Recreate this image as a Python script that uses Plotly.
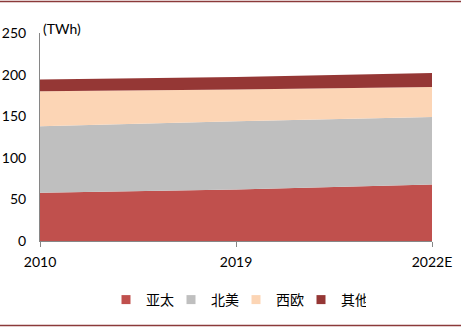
import plotly.graph_objects as go

years = ["2010", "2019", "2022E"]
series_names = ["亚太", "北美", "西欧", "其他"]
apac = [58, 62, 68]
north_america = [80, 82, 81]
west_europe = [42, 38, 36]
others = [14, 15, 17]
colors = ["#C0504D", "#BFBFBF", "#FCD5B5", "#953735"]

values = [apac, north_america, west_europe, others]
xpos = list(range(len(years)))

fig = go.Figure()
for name, vals, c in zip(series_names, values, colors):
    fig.add_trace(go.Scatter(
        x=xpos, y=vals, name=name, mode="lines",
        stackgroup="one", line=dict(width=0, color=c),
        fillcolor=c, showlegend=False,
    ))
# legend entries with square symbols
for name, c in zip(series_names, colors):
    fig.add_trace(go.Scatter(
        x=[None], y=[None], name=name, mode="markers",
        marker=dict(symbol="square", size=9, color=c), showlegend=True,
    ))

W, H = 461, 328
ml, mr, mt, mb = 40, 29, 33, 87
pw, ph = W - ml - mr, H - mt - mb

fig.update_layout(
    width=W, height=H,
    margin=dict(l=ml, r=mr, t=mt, b=mb, autoexpand=False),
    paper_bgcolor="white", plot_bgcolor="white",
    font=dict(family="Lato, 'Noto Sans CJK SC', sans-serif", size=14, color="#000000"),
    showlegend=True,
    legend=dict(orientation="h", x=0.5, xanchor="center", y=(241 - 300) / ph, yanchor="middle",
                traceorder="normal", font=dict(family="'Noto Sans CJK SC'", size=14),
                itemwidth=30, tracegroupgap=0, entrywidth=20, entrywidthmode="pixels"),
    xaxis=dict(range=[0, 2], tickmode="array", tickvals=xpos, ticktext=years,
               showgrid=False, zeroline=False, showline=True, linecolor="#868686",
               linewidth=1, ticks="outside", ticklen=5, tickcolor="#868686",
               tickfont=dict(size=14), ticklabelstandoff=3, automargin=False),
    yaxis=dict(range=[0, 250], tickvals=[0, 50, 100, 150, 200, 250],
               showgrid=False, zeroline=False, showline=True, linecolor="#868686",
               linewidth=1, ticks="", tickfont=dict(size=14), ticklabelstandoff=10,
               automargin=False),
    annotations=[dict(text="(TWh)", xref="paper", yref="paper", x=1 / pw, y=(241 - 28) / ph,
                      xanchor="left", yanchor="middle", showarrow=False,
                      font=dict(size=14))],
    shapes=[
        dict(type="line", xref="paper", yref="paper", x0=-ml / pw, x1=(W - ml) / pw,
             y0=(241 - 1.5) / ph, y1=(241 - 1.5) / ph, line=dict(color="#8B3A3A", width=1.5)),
        dict(type="line", xref="paper", yref="paper", x0=-ml / pw, x1=(W - ml) / pw,
             y0=(241 - 325.5) / ph, y1=(241 - 325.5) / ph, line=dict(color="#8B3A3A", width=1.5)),
    ],
)

fig.write_html("out.html")
